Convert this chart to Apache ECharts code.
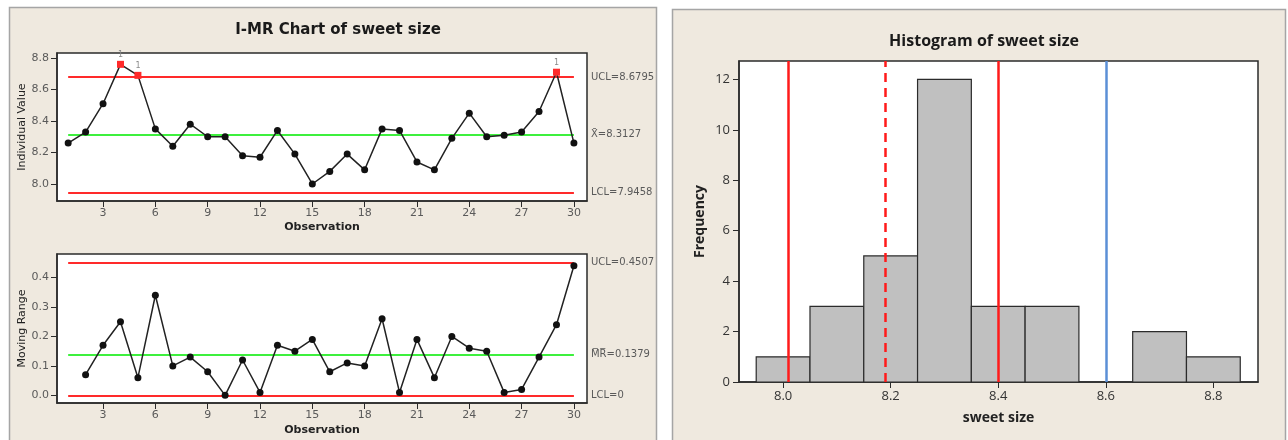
<!DOCTYPE html>
<html>
<head>
<meta charset="utf-8">
<title>I-MR Chart and Histogram of sweet size</title>
<script src="https://cdn.jsdelivr.net/npm/echarts@6/dist/echarts.min.js"></script>
<style>
  html, body { margin: 0; padding: 0; background: #fff; }
  #main { width: 1288px; height: 440px; }
</style>
</head>
<body>
<div id="main"></div>
<script>
// observation numbers
var observations = [1,2,3,4,5,6,7,8,9,10,11,12,13,14,15,16,17,18,19,20,21,22,23,24,25,26,27,28,29,30];
// individual values
var individualValues = [8.26,8.33,8.51,8.76,8.69,8.35,8.24,8.38,8.30,8.30,8.18,8.17,8.34,8.19,8.00,
                        8.08,8.19,8.09,8.35,8.34,8.14,8.09,8.29,8.45,8.30,8.31,8.33,8.46,8.71,8.26];
// moving ranges (first one is undefined)
var movingRanges = [null,0.07,0.17,0.25,0.06,0.34,0.10,0.13,0.08,0.00,0.12,0.01,0.17,0.15,0.19,
                    0.08,0.11,0.10,0.26,0.01,0.19,0.06,0.20,0.16,0.15,0.01,0.02,0.13,0.24,0.44];
// points flagged by test 1
var flaggedObs = [4, 5, 29];

// control limits
var iLimits = { ucl: 8.6795, center: 8.3127, lcl: 7.9458 };
var mrLimits = { ucl: 0.4507, center: 0.1379, lcl: 0 };

// tick labels
var obsTicks = [3,6,9,12,15,18,21,24,27,30];
var iTicks = [8.0,8.2,8.4,8.6,8.8];
var mrTicks = [0.0,0.1,0.2,0.3,0.4];
var freqTicks = [0,2,4,6,8,10,12];
var sizeTicks = [8.0,8.2,8.4,8.6,8.8];

// histogram bins
var binLow  = [7.95,8.05,8.15,8.25,8.35,8.45,8.55,8.65,8.75];
var binHigh = [8.05,8.15,8.25,8.35,8.45,8.55,8.65,8.75,8.85];
var binCounts = [1,3,5,12,3,3,0,2,1];

// reference lines on the histogram
var histRedLines = [8.005, 8.405];
var histDashLine = [8.19];
var histBlueLine = [8.60];

var chart = echarts.init(document.getElementById('main'));

var RED = '#ff2a2a', GREEN = '#3ef03e', FRAME = '#2b2b2b', TICKTXT = '#5a5a5a';
var labFont = 'DejaVu Sans';

function fmt1(v) { return Number(v).toFixed(1); }

var iData = [], mrData = [];
for (var i = 0; i < observations.length; i++) {
    var flagged = flaggedObs.indexOf(observations[i]) >= 0;
    var pt = { value: [observations[i], individualValues[i]] };
    if (flagged) {
        pt.symbol = 'rect';
        pt.symbolSize = 7;
        pt.itemStyle = { color: RED };
        pt.label = { show: true, formatter: '1', position: 'top', distance: 2,
                     color: '#8a8a8a', fontSize: 8, fontFamily: labFont };
    }
    iData.push(pt);
    if (movingRanges[i] !== null) mrData.push([observations[i], movingRanges[i]]);
}

var histData = [];
for (var j = 0; j < binCounts.length; j++) {
    histData.push([binLow[j], binHigh[j], binCounts[j]]);
}

function limitLine(x0, x1, y, color, text) {
    return [
        { coord: [x0, y], lineStyle: { color: color, width: 2, type: 'solid' },
          label: { show: true, position: 'end', distance: 17, formatter: text,
                   color: TICKTXT, fontSize: 10, fontFamily: labFont } },
        { coord: [x1, y] }
    ];
}

function valueAxis(idx, min, max, ticks, formatter, name, nameGap, extra) {
    var ax = {
        type: 'value', gridIndex: idx, min: min, max: max,
        splitLine: { show: false },
        axisLine: { show: true, onZero: false, lineStyle: { color: FRAME, width: 1.5 } },
        axisTick: { show: true, length: 6, customValues: ticks, lineStyle: { color: FRAME } },
        axisLabel: { show: true, customValues: ticks, formatter: formatter,
                     color: TICKTXT, fontSize: 11, fontFamily: labFont, margin: 8 },
        name: name, nameLocation: 'middle', nameGap: nameGap,
        nameTextStyle: { color: '#222', fontSize: 11, fontFamily: labFont }
    };
    if (extra) for (var k in extra) ax[k] = extra[k];
    return ax;
}

var obsLabel = { customValues: obsTicks, color: TICKTXT, fontSize: 11, fontFamily: labFont, margin: 7 };
var obsName = { color: '#222', fontSize: 11, fontWeight: 'bold', fontFamily: labFont };

var option = {
    animation: false,
    backgroundColor: '#ffffff',
    graphic: [
        { type: 'rect', z: -100, silent: true,
          shape: { x: 9.5, y: 7.5, width: 647, height: 440 },
          style: { fill: '#efe9df', stroke: '#a5a5a5', lineWidth: 1.5 } },
        { type: 'rect', z: -100, silent: true,
          shape: { x: 672.5, y: 9.5, width: 613, height: 440 },
          style: { fill: '#efe9df', stroke: '#a5a5a5', lineWidth: 1.5 } }
    ],
    title: [
        { text: 'I-MR Chart of sweet size', left: 333, top: 18, textAlign: 'center',
          textStyle: { fontFamily: 'DejaVu Sans', fontWeight: 'bold', fontSize: 15, color: '#1a1a1a' } },
        { text: 'Histogram of sweet size', left: 979, top: 28, textAlign: 'center',
          textStyle: { fontFamily: 'Open Sans', fontWeight: 'bold', fontSize: 16, color: '#1a1a1a' } }
    ],
    grid: [
        { left: 57, top: 53, width: 530, height: 148, show: true, backgroundColor: '#fff',
          borderColor: FRAME, borderWidth: 1.5, containLabel: false, outerBoundsMode: 'none' },
        { left: 57, top: 254, width: 530, height: 149, show: true, backgroundColor: '#fff',
          borderColor: FRAME, borderWidth: 1.5, containLabel: false, outerBoundsMode: 'none' },
        { left: 739, top: 61, width: 519, height: 321, show: true, backgroundColor: '#fff',
          borderColor: FRAME, borderWidth: 1.5, containLabel: false, outerBoundsMode: 'none' }
    ],
    xAxis: [
        valueAxis(0, 0.36, 30.75, obsTicks, null, 'Observation', 21,
                  { nameTextStyle: obsName, axisLabel: obsLabel }),
        valueAxis(1, 0.36, 30.75, obsTicks, null, 'Observation', 22,
                  { nameTextStyle: obsName, axisLabel: obsLabel }),
        valueAxis(2, 7.918, 8.883, sizeTicks, fmt1, 'sweet size', 29,
                  { nameTextStyle: { color: '#222', fontSize: 14, fontWeight: 'bold', fontFamily: 'Open Sans' },
                    axisLabel: { customValues: sizeTicks, formatter: fmt1, color: '#333',
                                 fontSize: 13, fontFamily: 'Open Sans', margin: 8 } })
    ],
    yAxis: [
        valueAxis(0, 7.892, 8.832, iTicks, fmt1, 'Individual Value', 28),
        valueAxis(1, -0.026, 0.48, mrTicks, fmt1, 'Moving Range', 28),
        valueAxis(2, 0, 12.73, freqTicks, null, 'Frequency', 32,
                  { nameTextStyle: { color: '#222', fontSize: 14, fontWeight: 'bold', fontFamily: 'Open Sans' },
                    axisLabel: { customValues: freqTicks, color: '#333',
                                 fontSize: 13, fontFamily: 'Open Sans', margin: 9 } })
    ],
    series: [
        {
            type: 'line', xAxisIndex: 0, yAxisIndex: 0, data: iData,
            symbol: 'circle', symbolSize: 7,
            itemStyle: { color: '#111' }, lineStyle: { color: '#222', width: 1.5 },
            z: 5,
            markLine: {
                silent: true, symbol: 'none', animation: false,
                data: [
                    limitLine(1, 30, iLimits.ucl, RED, 'UCL=' + iLimits.ucl),
                    limitLine(1, 30, iLimits.center, GREEN, 'X\u0304=' + iLimits.center),
                    limitLine(1, 30, iLimits.lcl, RED, 'LCL=' + iLimits.lcl)
                ]
            }
        },
        {
            type: 'line', xAxisIndex: 1, yAxisIndex: 1, data: mrData,
            symbol: 'circle', symbolSize: 7,
            itemStyle: { color: '#111' }, lineStyle: { color: '#222', width: 1.5 },
            z: 5,
            markLine: {
                silent: true, symbol: 'none', animation: false,
                data: [
                    limitLine(1, 30, mrLimits.ucl, RED, 'UCL=' + mrLimits.ucl),
                    limitLine(1, 30, mrLimits.center, GREEN, 'M\u0305R\u0305=' + mrLimits.center),
                    limitLine(1, 30, mrLimits.lcl, RED, 'LCL=' + mrLimits.lcl)
                ]
            }
        },
        {
            type: 'custom', xAxisIndex: 2, yAxisIndex: 2, data: histData,
            renderItem: function (params, api) {
                var c = api.value(2);
                if (!c) return null;
                var p0 = api.coord([api.value(0), 0]);
                var p1 = api.coord([api.value(1), c]);
                return {
                    type: 'rect',
                    shape: { x: p0[0], y: p1[1], width: p1[0] - p0[0], height: p0[1] - p1[1] },
                    style: { fill: '#c0c0c0', stroke: '#2b2b2b', lineWidth: 1.2 }
                };
            }
        },
        {
            type: 'line', xAxisIndex: 2, yAxisIndex: 2, data: [], z: 6,
            markLine: {
                silent: true, symbol: 'none', animation: false, label: { show: false },
                data: histRedLines.map(function (v) {
                    return { xAxis: v, lineStyle: { color: '#ff1a1a', width: 2.5, type: 'solid' } };
                }).concat(histDashLine.map(function (v) {
                    return { xAxis: v, lineStyle: { color: '#ff1a1a', width: 2.5, type: [9, 6] } };
                })).concat(histBlueLine.map(function (v) {
                    return { xAxis: v, lineStyle: { color: '#5b8fd6', width: 2.5, type: 'solid' } };
                }))
            }
        }
    ]
};

chart.setOption(option);
window.onresize = function () { chart.resize(); };
</script>
</body>
</html>
